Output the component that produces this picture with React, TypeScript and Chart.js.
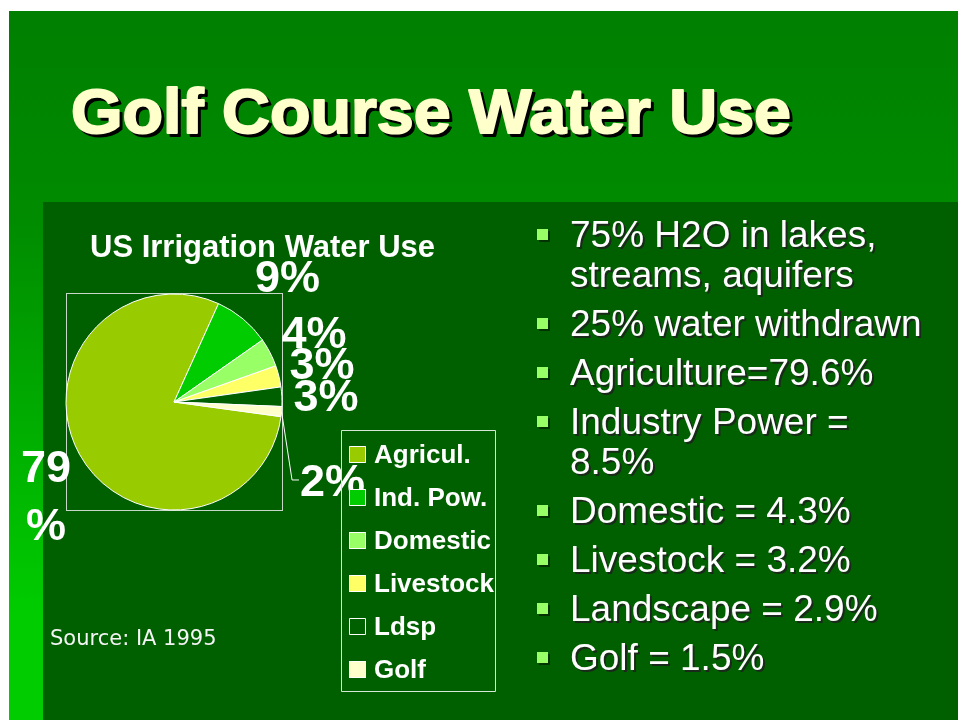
import React, { useEffect, useRef } from "react";
import { Chart, registerables } from "chart.js";

Chart.register(...registerables);

const categories = ["Agricul.", "Ind. Pow.", "Domestic", "Livestock", "Ldsp", "Golf"];
const shares = [79.6, 8.5, 4.3, 3.2, 2.9, 1.5];
const shareLabels = ["79 %", "9%", "4%", "3%", "3%", "2%"];
const sliceColors = ["#99cc00", "#00cc00", "#99ff66", "#ffff66", "#006000", "#ffffcc"];
const slideTitle = "Golf Course Water Use";
const chartTitle = "US Irrigation Water Use";
const bulletLines = [
  ["75% H2O in lakes,", "streams, aquifers"],
  ["25% water withdrawn"],
  ["Agriculture=79.6%"],
  ["Industry Power =", "8.5%"],
  ["Domestic = 4.3%"],
  ["Livestock = 3.2%"],
  ["Landscape = 2.9%"],
  ["Golf = 1.5%"],
];
const sourceNote = "Source: IA 1995";

// label anchors relative to pie centre, in units of radius (baseline centre)
const labelAnchors = [
  [-1.185, 0.741],
  [1.051, -1.019],
  [1.296, -0.5],
  [1.37, -0.213],
  [1.407, 0.083],
  [1.468, 0.87],
];

const W = 958;
const H = 720;

const slidePlugin = {
  id: "slide",
  beforeDraw(chart: any) {
    const ctx = chart.ctx as CanvasRenderingContext2D;
    ctx.save();
    ctx.fillStyle = "#ffffff";
    ctx.fillRect(0, 0, W, H);
    const g = ctx.createLinearGradient(0, 11, 0, H);
    g.addColorStop(0, "#007f00");
    g.addColorStop(0.3, "#008c00");
    g.addColorStop(0.85, "#00cc00");
    g.addColorStop(1, "#00cc00");
    ctx.fillStyle = g;
    ctx.fillRect(9, 11, W - 9, H - 11);
    ctx.fillStyle = "#006000";
    ctx.fillRect(43, 202, W - 43, H - 202);

    // pie plot-area frame
    const a = chart.chartArea;
    ctx.strokeStyle = "#c8d8c8";
    ctx.lineWidth = 1;
    ctx.strokeRect(Math.round(a.left) + 0.5, Math.round(a.top) - 0.5, a.right - a.left, a.bottom - a.top + 1);
    ctx.restore();
  },
  afterDraw(chart: any) {
    const ctx = chart.ctx as CanvasRenderingContext2D;
    ctx.save();

    // slide title
    ctx.font = "bold 63px 'Liberation Sans', Arial, sans-serif";
    ctx.textBaseline = "alphabetic";
    ctx.textAlign = "left";
    ctx.lineJoin = "round";
    const tw = ctx.measureText(slideTitle).width;
    const sx = 720 / tw;
    ctx.save();
    ctx.translate(71, 133);
    ctx.scale(sx, 1);
    ctx.fillStyle = "#000000";
    ctx.strokeStyle = "#000000";
    ctx.lineWidth = 2;
    ctx.fillText(slideTitle, 3 / sx, 3);
    ctx.strokeText(slideTitle, 3 / sx, 3);
    ctx.fillStyle = "#ffffcc";
    ctx.strokeStyle = "#ffffcc";
    ctx.lineWidth = 2;
    ctx.fillText(slideTitle, 0, 0);
    ctx.strokeText(slideTitle, 0, 0);
    ctx.restore();

    // chart title
    ctx.font = "bold 31px 'Liberation Sans', Arial, sans-serif";
    ctx.fillStyle = "#ffffff";
    ctx.fillText(chartTitle, 90, 257);

    // pie labels
    const meta = chart.getDatasetMeta(0);
    const arc0 = meta.data[0] as any;
    const cx = arc0.x;
    const cy = arc0.y;
    const R = arc0.outerRadius;
    ctx.font = "bold 45px 'Liberation Sans', Arial, sans-serif";
    ctx.textAlign = "center";
    ctx.fillStyle = "#ffffff";
    shareLabels.forEach((lab, i) => {
      const [ux, uy] = labelAnchors[i];
      const x = cx + ux * R;
      const y = cy + uy * R;
      const parts = lab.split(" ");
      parts.forEach((p, k) => ctx.fillText(p, x, y + k * 58));
    });

    // leader line for the last (golf) slice
    const lastArc = meta.data[meta.data.length - 1] as any;
    const mid = (lastArc.startAngle + lastArc.endAngle) / 2;
    ctx.strokeStyle = "#ffffff";
    ctx.lineWidth = 1;
    ctx.beginPath();
    ctx.moveTo(cx + Math.cos(mid) * R, cy + Math.sin(mid) * R);
    ctx.lineTo(cx + 1.093 * R, cy + 0.722 * R);
    ctx.lineTo(cx + 1.157 * R, cy + 0.722 * R);
    ctx.stroke();

    // legend
    ctx.strokeStyle = "#d8e8d8";
    ctx.strokeRect(341.5, 430.5, 154, 261);
    ctx.font = "bold 26px 'Liberation Sans', Arial, sans-serif";
    ctx.textAlign = "left";
    categories.forEach((c, i) => {
      const by = 463 + i * 43;
      ctx.fillStyle = sliceColors[i];
      ctx.fillRect(349, by - 17, 17, 17);
      ctx.strokeStyle = "#ffffff";
      ctx.strokeRect(349.5, by - 16.5, 16, 16);
      ctx.fillStyle = "#ffffff";
      ctx.fillText(c, 374, by);
    });

    // source
    ctx.font = "21px 'DejaVu Sans', sans-serif";
    ctx.fillStyle = "#f4f4f4";
    ctx.fillText(sourceNote, 50, 645);

    // bullets
    ctx.font = "37px 'Liberation Sans', Arial, sans-serif";
    let y = 247;
    bulletLines.forEach((lines) => {
      ctx.fillStyle = "#003300";
      ctx.fillRect(539, y - 16, 11, 11);
      ctx.fillStyle = "#99ff66";
      ctx.fillRect(537, y - 18, 11, 11);
      lines.forEach((ln) => {
        ctx.fillStyle = "#1a2a1a";
        ctx.fillText(ln, 572, y + 2);
        ctx.fillStyle = "#ffffff";
        ctx.fillText(ln, 570, y);
        y += 40;
      });
      y += 9;
    });

    ctx.restore();
  },
};

export default function App() {
  const ref = useRef<HTMLCanvasElement | null>(null);
  useEffect(() => {
    if (!ref.current) return;
    const chart = new Chart(ref.current, {
      type: "pie",
      data: {
        labels: categories,
        datasets: [
          {
            data: shares,
            backgroundColor: sliceColors,
            borderColor: "#ffffff",
            borderWidth: 1,
          },
        ],
      },
      options: {
        responsive: false,
        animation: false,
        rotation: 97.8,
        radius: 108,
        layout: { padding: { left: 66, right: W - 282, top: 294, bottom: H - 510 } },
        plugins: {
          legend: { display: false },
          title: { display: false },
          tooltip: { enabled: false },
        },
      },
      plugins: [slidePlugin],
    });
    return () => chart.destroy();
  }, []);
  return (
    <div style={{ position: "fixed", left: 0, top: 0, width: W, height: H }}>
      <canvas ref={ref} width={W} height={H} style={{ display: "block", width: W, height: H }} />
    </div>
  );
}
